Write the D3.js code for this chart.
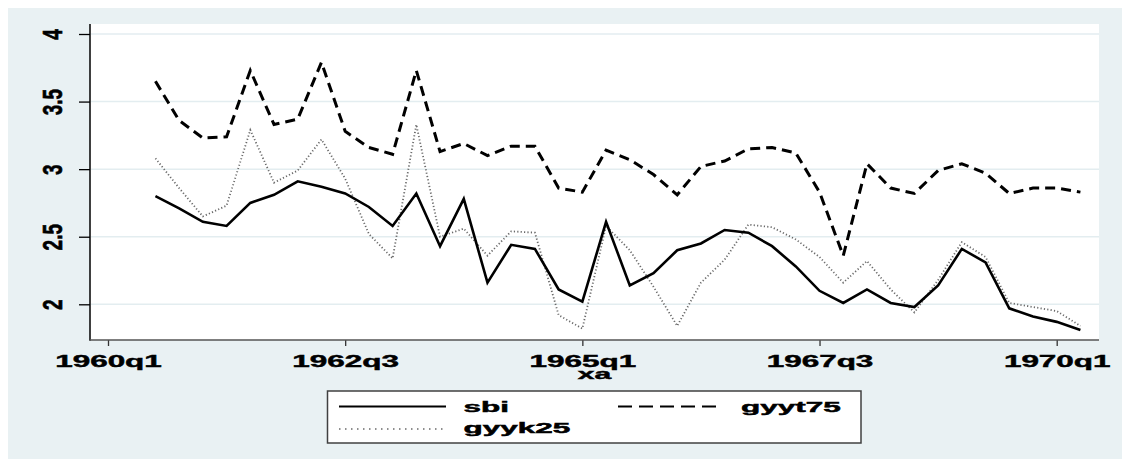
<!DOCTYPE html>
<html>
<head>
<meta charset="utf-8">
<script src="https://cdn.jsdelivr.net/npm/d3@7"></script>
<style>
  body { margin: 0; background: #ffffff; }
  svg { display: block; }
  text { font-family: "Liberation Sans", Arial, Helvetica, sans-serif; font-weight: bold; fill: #000; stroke: #000; stroke-width: 0.45; }
</style>
</head>
<body>
<svg id="chart" width="1122" height="459"></svg>
<script>
// Quarterly periods, 1960q3 to 1970q2
const quarters = [
  "1960q3","1960q4",
  "1961q1","1961q2","1961q3","1961q4",
  "1962q1","1962q2","1962q3","1962q4",
  "1963q1","1963q2","1963q3","1963q4",
  "1964q1","1964q2","1964q3","1964q4",
  "1965q1","1965q2","1965q3","1965q4",
  "1966q1","1966q2","1966q3","1966q4",
  "1967q1","1967q2","1967q3","1967q4",
  "1968q1","1968q2","1968q3","1968q4",
  "1969q1","1969q2","1969q3","1969q4",
  "1970q1","1970q2"
];

const sbi = [
  2.80, 2.71, 2.61, 2.58, 2.75, 2.81, 2.91, 2.87, 2.82, 2.72,
  2.58, 2.82, 2.43, 2.78, 2.16, 2.44, 2.41, 2.11, 2.02, 2.61,
  2.14, 2.23, 2.40, 2.45, 2.55, 2.53, 2.43, 2.28, 2.10, 2.01,
  2.11, 2.01, 1.98, 2.14, 2.41, 2.31, 1.97, 1.91, 1.87, 1.81
];

const gyyt75 = [
  3.65, 3.36, 3.23, 3.24, 3.73, 3.33, 3.37, 3.79, 3.28, 3.16,
  3.11, 3.73, 3.13, 3.19, 3.10, 3.17, 3.17, 2.86, 2.83, 3.14,
  3.07, 2.96, 2.81, 3.02, 3.06, 3.15, 3.16, 3.12, 2.83, 2.36,
  3.04, 2.86, 2.82, 2.99, 3.04, 2.97, 2.82, 2.86, 2.86, 2.83
];

const gyyk25 = [
  3.08, 2.86, 2.65, 2.73, 3.29, 2.90, 2.99, 3.22, 2.93, 2.52,
  2.34, 3.33, 2.50, 2.56, 2.36, 2.54, 2.53, 1.92, 1.82, 2.58,
  2.40, 2.13, 1.84, 2.16, 2.33, 2.59, 2.57, 2.48, 2.35, 2.16,
  2.32, 2.11, 1.94, 2.18, 2.46, 2.35, 2.01, 1.98, 1.95, 1.84
];

const xTickLabels = ["1960q1", "1962q3", "1965q1", "1967q3", "1970q1"];
const yTicks = [2, 2.5, 3, 3.5, 4];
const xTitle = "xa";

// quarter label -> quarters since 1960q1
const qIndex = s => (+s.slice(0, 4) - 1960) * 4 + (+s.slice(5) - 1);

const svg = d3.select("#chart");
const plot = { left: 90, right: 1099, top: 24, bottom: 340 };

const x = d3.scaleLinear().domain([0, 40]).range([108, 1056.7]);
const y = d3.scaleLinear().domain([2, 4]).range([304.3, 34]);

// outer graph region
svg.append("rect").attr("x", 8).attr("y", 8).attr("width", 1114).attr("height", 451)
  .attr("fill", "#e9f1f3");
// plot region
svg.append("rect").attr("x", plot.left).attr("y", plot.top)
  .attr("width", plot.right - plot.left).attr("height", plot.bottom - plot.top)
  .attr("fill", "#ffffff");

// horizontal grid
svg.append("g").selectAll("line").data(yTicks).join("line")
  .attr("x1", plot.left + 1).attr("x2", plot.right)
  .attr("y1", d => y(d)).attr("y2", d => y(d))
  .attr("stroke", "#e3edf0").attr("stroke-width", 1.5);

// series
const series = [
  { name: "sbi", values: sbi, stroke: "#000", width: 2.6, dash: null },
  { name: "gyyt75", values: gyyt75, stroke: "#000", width: 3, dash: "10,6" },
  { name: "gyyk25", values: gyyk25, stroke: "#6a6a6a", width: 1.8, dash: "1.2,2.2" }
];

const line = d3.line()
  .x(d => x(qIndex(d.q)))
  .y(d => y(d.v));

svg.append("g").selectAll("path").data(series.slice().reverse()).join("path")
  .attr("d", s => line(quarters.map((q, i) => ({ q, v: s.values[i] }))))
  .attr("fill", "none")
  .attr("stroke", s => s.stroke)
  .attr("stroke-width", s => s.width)
  .attr("stroke-dasharray", s => s.dash)
  .attr("stroke-linejoin", "miter")
  .attr("stroke-linecap", "butt");

// y axis
const yAxis = svg.append("g").attr("transform", `translate(${plot.left},0)`)
  .call(d3.axisLeft(y).tickValues(yTicks).tickSize(11).tickFormat(d3.format("")));
yAxis.select(".domain").remove();
yAxis.selectAll(".tick line").attr("stroke", "#000").attr("stroke-width", 1.3);
yAxis.selectAll(".tick text")
  .attr("x", null).attr("dy", null)
  .attr("text-anchor", "middle")
  .attr("font-size", 19)
  .attr("fill", "#000")
  .attr("transform", "translate(-28,0) scale(1.45,1) rotate(-90)");
svg.append("line").attr("x1", plot.left).attr("x2", plot.left)
  .attr("y1", plot.top).attr("y2", plot.bottom + 0.75)
  .attr("stroke", "#000").attr("stroke-width", 1.5);

// x axis
const xAxis = svg.append("g").attr("transform", `translate(0,${plot.bottom})`)
  .call(d3.axisBottom(x).tickValues(xTickLabels.map(qIndex)).tickSize(6)
    .tickFormat((d, i) => xTickLabels[i]));
xAxis.select(".domain").remove();
xAxis.selectAll(".tick line").attr("stroke", "#333").attr("stroke-width", 1.3);
xAxis.selectAll(".tick text")
  .attr("y", null).attr("dy", null)
  .attr("text-anchor", "middle")
  .attr("font-size", 17)
  .attr("fill", "#000")
  .attr("transform", "translate(0,27) scale(1.85,1)");
svg.append("line").attr("x1", plot.left).attr("x2", plot.right)
  .attr("y1", plot.bottom).attr("y2", plot.bottom)
  .attr("stroke", "#555").attr("stroke-width", 1.5);

// x axis title
svg.append("text")
  .attr("transform", `translate(${(plot.left + plot.right) / 2},379) scale(2,1)`)
  .attr("text-anchor", "middle").attr("font-size", 15)
  .text(xTitle);

// legend
const legend = svg.append("g");
legend.append("rect").attr("x", 327.5).attr("y", 391).attr("width", 533.5).attr("height", 52)
  .attr("fill", "#fff").attr("stroke", "#404040").attr("stroke-width", 1.5);

const legendItems = [
  { s: series[0], x0: 339, x1: 446, tx: 463.5, ly: 406.5, ty: 411.5 },
  { s: series[1], x0: 618, x1: 723, tx: 741, ly: 406.5, ty: 411.5 },
  { s: series[2], x0: 339, x1: 446, tx: 463.5, ly: 429, ty: 433 }
];
const li = legend.selectAll("g.item").data(legendItems).join("g").attr("class", "item");
li.append("line")
  .attr("x1", d => d.x0).attr("x2", d => d.x1)
  .attr("y1", d => d.ly).attr("y2", d => d.ly)
  .attr("stroke", d => d.s.stroke)
  .attr("stroke-width", d => d.s.name === "gyyk25" ? 1.6 : 2.2)
  .attr("stroke-dasharray", d => d.s.name === "gyyt75" ? "14,7" : d.s.name === "gyyk25" ? "1.5,4.5" : null);
li.append("text")
  .attr("transform", d => `translate(${d.tx},${d.ty}) scale(2.25,1)`)
  .attr("font-size", 14)
  .text(d => d.s.name);
</script>
</body>
</html>
